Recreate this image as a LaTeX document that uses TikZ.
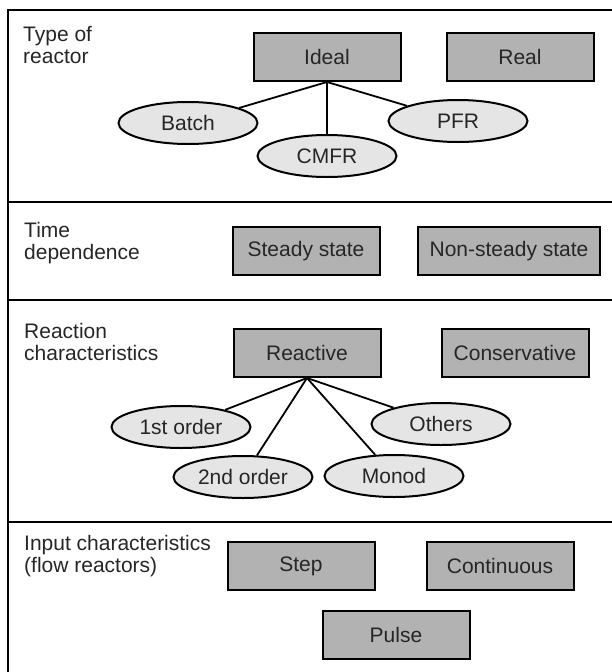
\documentclass[tikz,border=0pt]{standalone}
\usepackage{fontspec}
\setmainfont{Liberation Sans}
\usetikzlibrary{shapes.geometric}

\tikzset{
  kindbox/.style={rectangle,draw=black,line width=2pt,fill=black!30,text=black!85,
    minimum width=147pt,minimum height=48pt,inner sep=2pt},
  subell/.style={ellipse,draw=black,line width=2pt,fill=black!10,text=black!85,
    minimum width=139pt,minimum height=42pt,inner sep=0pt},
  head/.style={anchor=north west,align=left,inner sep=0pt,text=black!85}
}

\begin{document}
\begin{tikzpicture}[x=1pt,y=-1pt,font=\fontsize{21}{22.5}\selectfont]
    \useasboundingbox (0,0) rectangle (612,672);
    % frame and dividers
    \draw[line width=2pt] (630,10) -- (8,10) -- (8,690);
    \foreach \yy in {202,300,522}
      \draw[line width=1.8pt] (8,\yy) -- (630,\yy);
    % row titles
    \node[head] (lab1) at (23,26) {Type of\\reactor};
    \node[head] (lab2) at (24,222) {Time\\dependence};
    \node[head] (lab3) at (24,323) {Reaction\\characteristics};
    \node[head] (lab4) at (24,535) {Input characteristics\\(flow reactors)};
			\begin{scope}[every node/.style={kindbox}]
    \node (ideal) at (327,57) {Ideal};
    \node (real) at (520,57) {Real};
    \node (steady) at (306,251) {Steady state};
    \node[minimum width=182pt] (unsteady) at (509,251) {Non-steady state};
    \node (reactive) at (307,353) {Reactive};
    \node (conserv) at (515,353) {Conservative};
    \node (step) at (301,566) {Step};
    \node (cont) at (500,566) {Continuous};
    \node (pulse) at (396,635) {Pulse};
			\end{scope}
			\begin{scope}[every node/.style={subell}]
    \node (batch) at (188,123) {Batch};
    \node (cmfr) at (327,156) {CMFR};
    \node (pfr) at (458,121) {PFR};
    \node (first) at (181,427) {1st order};
    \node (second) at (243,477) {2nd order};
    \node (monod) at (394,476) {Monod};
    \node (others) at (441,424) {Others};
			\end{scope}
			\begin{scope}[every edge/.style={draw=black,line width=1.8pt}]
    \path [-] (ideal.south) edge (batch);
    \path [-] (ideal.south) edge (cmfr);
    \path [-] (ideal.south) edge (pfr);
    \path [-] (reactive.south) edge (first);
    \path [-] (reactive.south) edge (second);
    \path [-] (reactive.south) edge (monod);
    \path [-] (reactive.south) edge (others);
			\end{scope}
\end{tikzpicture}
\end{document}
